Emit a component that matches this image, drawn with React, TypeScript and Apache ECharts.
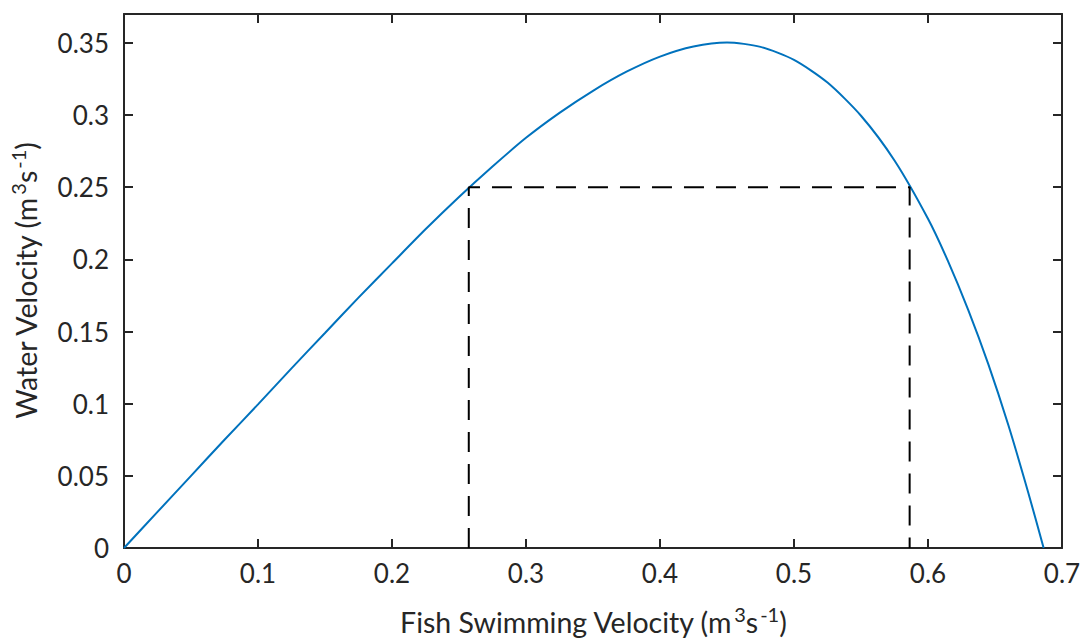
import React, { useEffect, useRef } from "react";
import * as echarts from "echarts";

// Curve: fish swimming velocity (x) vs water velocity (y)
const curveX = [0, 0.025, 0.05, 0.075, 0.1, 0.125, 0.15, 0.175, 0.2, 0.225, 0.25, 0.275, 0.3, 0.325, 0.35, 0.375, 0.4, 0.425, 0.45, 0.475, 0.5, 0.525, 0.55, 0.575, 0.6, 0.615, 0.63, 0.645, 0.66, 0.675, 0.6863];
const curveY = [0, 0.025, 0.05, 0.075, 0.0995, 0.1245, 0.149, 0.1735, 0.1972, 0.2208, 0.2432, 0.2643, 0.2842, 0.3015, 0.3168, 0.33, 0.3405, 0.3475, 0.3503, 0.3472, 0.3382, 0.3225, 0.2995, 0.2685, 0.2281, 0.1986, 0.165, 0.1274, 0.085, 0.0378, 0];

// Dashed guide: the two crossings of the 0.25 level
const dashX = [0.2573, 0.2573, 0.5863, 0.5863];
const dashY = [0, 0.25, 0.25, 0];

const xTicks = { min: 0, max: 0.7, interval: 0.1 };
const yTicks = { min: 0, max: 0.37, interval: 0.05 };

const xTitle = "{a|Fish Swimming Velocity (m}{s|3}{a|s}{s|-1}{a|)}";
const yTitle = "{a|Water Velocity (m}{s|3}{a|s}{s|-1}{a|)}";

const FONT = "Lato";
const INK = "#262626";

export default function App() {
  const ref = useRef<HTMLDivElement>(null);
  useEffect(() => {
    if (!ref.current) return;
    const chart = echarts.init(ref.current, undefined, { renderer: "svg" });
    const rich = {
      a: { fontSize: 28.5, fontFamily: FONT, color: INK },
      s: { fontSize: 20, fontFamily: FONT, color: INK, padding: [0, 0, 16, 2] },
    };
    const axisLine = { show: true, onZero: false, lineStyle: { color: INK, width: 2 } };
    const axisTick = { show: true, inside: true, length: 9, lineStyle: { color: INK, width: 2 } };
    const label = { fontSize: 26, fontFamily: FONT, color: INK };
    chart.setOption({
      animation: false,
      grid: { left: 124, top: 14, right: 20, bottom: 90, containLabel: false, outerBoundsMode: "none" },
      xAxis: [
        {
          type: "value", position: "bottom", ...xTicks,
          axisLine, axisTick, splitLine: { show: false },
          axisLabel: { ...label, margin: 12, formatter: (v: number) => String(+v.toFixed(2)) },
          name: xTitle, nameLocation: "middle", nameGap: 56,
          nameTextStyle: { rich },
        },
        {
          type: "value", position: "top", ...xTicks,
          axisLine, axisTick, splitLine: { show: false }, axisLabel: { show: false },
        },
      ],
      yAxis: [
        {
          type: "value", position: "left", ...yTicks,
          axisLine, axisTick, splitLine: { show: false },
          axisLabel: { ...label, margin: 15, showMaxLabel: false, formatter: (v: number) => String(+v.toFixed(2)) },
          name: yTitle, nameLocation: "middle", nameGap: 80,
          nameTextStyle: { rich },
        },
        {
          type: "value", position: "right", ...yTicks,
          axisLine, axisTick, splitLine: { show: false }, axisLabel: { show: false },
        },
      ],
      series: [
        {
          type: "line",
          data: curveX.map((x, i) => [x, curveY[i]]),
          smooth: 0.25,
          showSymbol: false,
          lineStyle: { color: "#0072BD", width: 2 },
          xAxisIndex: 0, yAxisIndex: 0,
        },
        {
          type: "line",
          data: dashX.map((x, i) => [x, dashY[i]]),
          showSymbol: false,
          lineStyle: { color: "#000000", width: 2, type: [20, 12] },
          xAxisIndex: 0, yAxisIndex: 0,
        },
      ],
    });
    return () => chart.dispose();
  }, []);
  return (
    <div
      ref={ref}
      style={{ position: "fixed", left: 0, top: 0, width: 1082, height: 638, background: "#fff" }}
    />
  );
}
